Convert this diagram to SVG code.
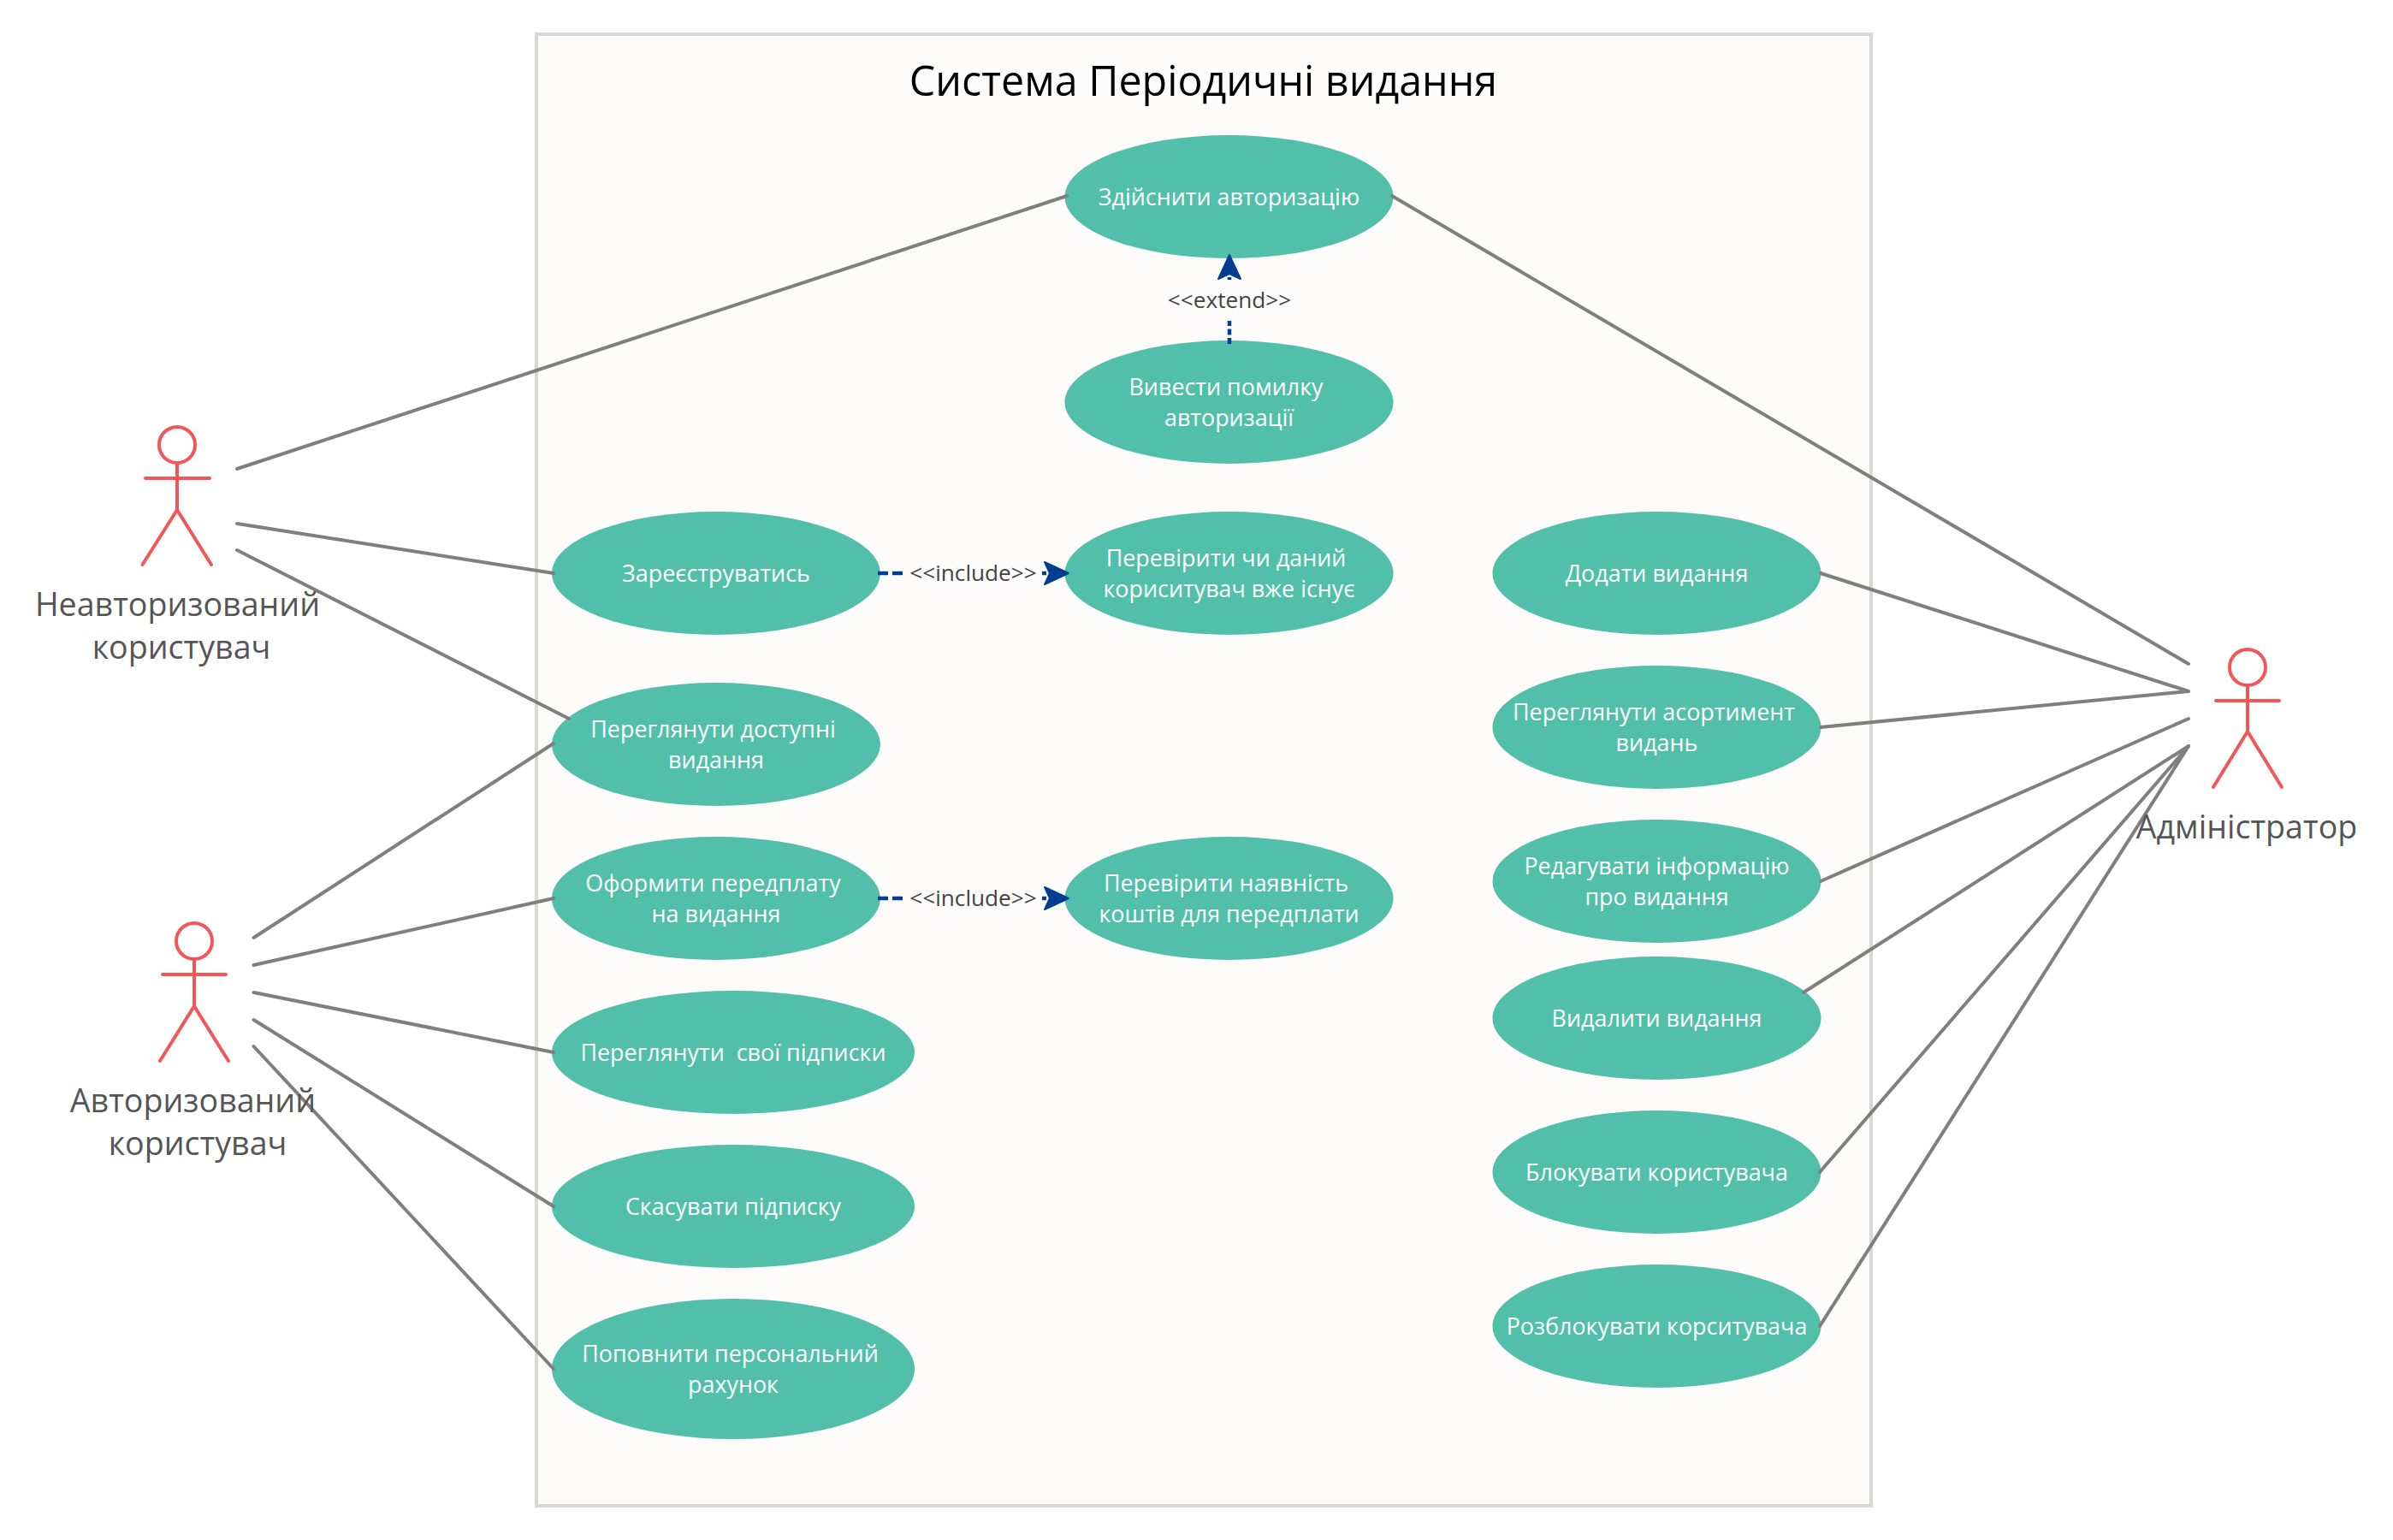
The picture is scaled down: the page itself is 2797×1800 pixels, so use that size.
<svg xmlns="http://www.w3.org/2000/svg" width="2797" height="1800" viewBox="0 0 2797 1800">
<style>
text{font-family:"Open Sans","Noto Sans",sans-serif;text-anchor:middle;white-space:pre}
.uc ellipse{fill:#51bfa9}
.uc text{fill:#fff;font-size:26.900px}
.actor circle,.actor ellipse,.actor path{fill:none;stroke:#f25656;stroke-width:4;stroke-linecap:round;stroke-linejoin:round}
.actor text{fill:#555;font-size:37.600px}
.assoc{fill:none;stroke:#7f7f7f;stroke-width:4;stroke-linecap:round}
.dep{fill:none;stroke:#003e92;stroke-width:4.500;stroke-dasharray:12 5}
.dep.short{stroke-dasharray:7 3.500}
.lbl{fill:#444;font-size:26.200px}
</style>
<defs>
<marker id="arrow" markerUnits="userSpaceOnUse" viewBox="-10 -18 42 36" refX="0" refY="0" markerWidth="42" markerHeight="36" orient="auto">
<path d="M26 0L-2 -13L4 0L-2 13Z" fill="#003e92" stroke="#003e92" stroke-width="2" stroke-linejoin="round"/>
</marker>
</defs>
<rect width="2797" height="1800" fill="#fff"/>
<g id="system">
<rect x="627" y="40" width="1560" height="1720" fill="#fdfcfb" stroke="#d8d8d8" stroke-width="4"/>
<text x="1406.500" y="112" font-size="48.400" fill="#000">Система Періодичні видання</text>
</g>
<g id="uc-login" class="uc"><ellipse cx="1436.500" cy="230" rx="192" ry="72"/><text x="1436.500" y="240">Здійснити авторизацію</text></g>
<g id="uc-login-error" class="uc"><ellipse cx="1436.500" cy="470" rx="192" ry="72"/><text x="1433" y="462">Вивести помилку</text><text x="1436.500" y="498">авторизації</text></g>
<g id="uc-register" class="uc"><ellipse cx="837" cy="670" rx="192" ry="72"/><text x="837" y="680">Зареєструватись</text></g>
<g id="uc-check-user" class="uc"><ellipse cx="1436.500" cy="670" rx="192" ry="72"/><text x="1433" y="662">Перевірити чи даний</text><text x="1436.500" y="698">кориситувач вже існує</text></g>
<g id="uc-view-available" class="uc"><ellipse cx="837" cy="870" rx="192" ry="72"/><text x="833.500" y="862">Переглянути доступні</text><text x="837" y="898">видання</text></g>
<g id="uc-subscribe" class="uc"><ellipse cx="837" cy="1050" rx="192" ry="72"/><text x="833.500" y="1042">Оформити передплату</text><text x="837" y="1078">на видання</text></g>
<g id="uc-check-funds" class="uc"><ellipse cx="1436.500" cy="1050" rx="192" ry="72"/><text x="1433" y="1042">Перевірити наявність</text><text x="1436.500" y="1078">коштів для передплати</text></g>
<g id="uc-my-subs" class="uc"><ellipse cx="857" cy="1230" rx="212" ry="72"/><text x="857" y="1240">Переглянути  свої підписки</text></g>
<g id="uc-cancel" class="uc"><ellipse cx="857" cy="1410" rx="212" ry="72"/><text x="857" y="1420">Скасувати підписку</text></g>
<g id="uc-topup" class="uc"><ellipse cx="857" cy="1600" rx="212" ry="82"/><text x="853.500" y="1592">Поповнити персональний</text><text x="857" y="1628">рахунок</text></g>
<g id="uc-add" class="uc"><ellipse cx="1936.500" cy="670" rx="192" ry="72"/><text x="1936.500" y="680">Додати видання</text></g>
<g id="uc-browse" class="uc"><ellipse cx="1936.500" cy="850" rx="192" ry="72"/><text x="1933" y="842">Переглянути асортимент</text><text x="1936.500" y="878">видань</text></g>
<g id="uc-edit" class="uc"><ellipse cx="1936.500" cy="1030" rx="192" ry="72"/><text x="1936.500" y="1022">Редагувати інформацію</text><text x="1936.500" y="1058">про видання</text></g>
<g id="uc-delete" class="uc"><ellipse cx="1936.500" cy="1190" rx="192" ry="72"/><text x="1936.500" y="1200">Видалити видання</text></g>
<g id="uc-block" class="uc"><ellipse cx="1936.500" cy="1370" rx="192" ry="72"/><text x="1936.500" y="1380">Блокувати користувача</text></g>
<g id="uc-unblock" class="uc"><ellipse cx="1936.500" cy="1550" rx="192" ry="72"/><text x="1936.500" y="1560">Розблокувати корситувача</text></g>
<g id="connectors">
<path class="assoc" d="M277 548L1247 229"/>
<path class="assoc" d="M277 612L647 670"/>
<path class="assoc" d="M277 643L665 840"/>
<path class="assoc" d="M296.500 1096L647 869"/>
<path class="assoc" d="M296.500 1128L647 1050"/>
<path class="assoc" d="M296.500 1160L647 1230"/>
<path class="assoc" d="M296.500 1192L647 1410"/>
<path class="assoc" d="M296.500 1223L647 1600"/>
<path class="assoc" d="M2558 776L1627 229"/>
<path class="assoc" d="M2558 808L2128 670"/>
<path class="assoc" d="M2558 808L2128 850"/>
<path class="assoc" d="M2558 840L2128 1030"/>
<path class="assoc" d="M2558 872L2108 1160"/>
<path class="assoc" d="M2558 872L2127 1370"/>
<path class="assoc" d="M2558 872L2127 1550"/>
<path class="dep" d="M1026 670H1056"/>
<path class="dep" d="M1218 670H1223" marker-end="url(#arrow)"/>
<text class="lbl" x="1137.500" y="679">&lt;&lt;include&gt;&gt;</text>
<path class="dep" d="M1026 1050H1056"/>
<path class="dep" d="M1218 1050H1223" marker-end="url(#arrow)"/>
<text class="lbl" x="1137.500" y="1059">&lt;&lt;include&gt;&gt;</text>
<path class="dep short" d="M1437 402V375"/>
<path class="dep" d="M1437 327V324" marker-end="url(#arrow)"/>
<text class="lbl" x="1437" y="360">&lt;&lt;extend&gt;&gt;</text>
</g>
<g id="actor-guest" class="actor">
<ellipse cx="207" cy="520" rx="21" ry="21"/>
<path d="M207 541V596M170 559H245M207 596L166.500 660M207 596L247 660"/>
<text x="207.500" y="720">Неавторизований</text><text x="212" y="770">користувач</text>
</g>
<g id="actor-user" class="actor">
<ellipse cx="227" cy="1100" rx="21" ry="21"/>
<path d="M227 1121V1176M190 1139H264M227 1176L187 1240M227 1176L267 1240"/>
<text x="225.500" y="1300">Авторизований</text><text x="231" y="1350">користувач</text>
</g>
<g id="actor-admin" class="actor">
<circle cx="2627" cy="780" r="21"/>
<path d="M2627 801V855M2590 819H2664M2627 855L2587 920M2627 855L2667 920"/>
<text x="2626" y="980">Адміністратор</text>
</g>
</svg>
